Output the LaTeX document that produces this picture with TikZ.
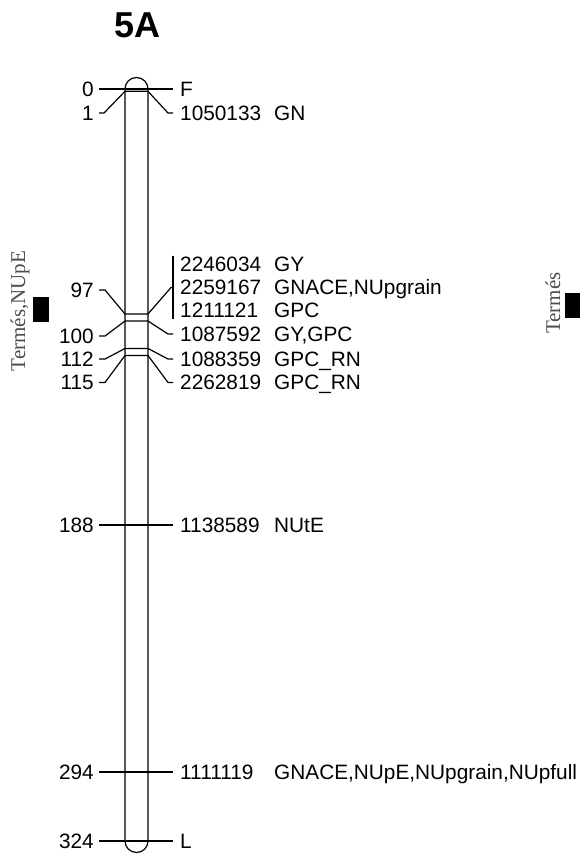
\documentclass[tikz,border=0pt]{standalone}
\usepackage{fontspec}
\setmainfont{Liberation Sans}
\newfontfamily\qtlfont{Liberation Serif}
\begin{document}
\begin{tikzpicture}[x=1pt,y=-1pt]
\tikzstyle{chrom}   = [draw=black, line width=1.2pt, rounded corners=11.5pt, minimum width=23pt, minimum height=775pt, inner sep=0pt]
\tikzstyle{cm_lbl}  = [anchor=east, inner xsep=5pt, inner ysep=1pt, text height=14.6pt, text depth=0pt, font=\fontsize{20.8}{24}\selectfont]
\tikzstyle{mk_lbl}  = [anchor=west, inner xsep=7pt, inner ysep=1pt, text height=14.6pt, text depth=0pt, font=\fontsize{20.8}{24}\selectfont]
\tikzstyle{trait}   = [anchor=west, inner xsep=0pt, inner ysep=1pt, text height=14.6pt, text depth=0pt, font=\fontsize{20.8}{24}\selectfont]
\tikzstyle{link}    = [line width=1.2pt]
\tikzstyle{qtl_bar} = [fill=black, minimum height=25pt, inner sep=0pt]
\tikzstyle{qtl_lbl} = [rotate=90, text=black!70, inner sep=0pt, font=\qtlfont\fontsize{21}{24}\selectfont]

\useasboundingbox (0,0) rectangle (582,856);

\node (title) at (137.5,25) {\fontsize{36}{42}\selectfont\bfseries 5A};
\node (chr) [chrom] at (136.5,465) {};

% map positions (cM)
\node (cm0)   [cm_lbl] at (99,89)    {0};
\node (cm1)   [cm_lbl] at (99,113)   {1};
\node (cm97)  [cm_lbl] at (99,290)   {97};
\node (cm100) [cm_lbl] at (99,336)   {100};
\node (cm112) [cm_lbl] at (99,359)   {112};
\node (cm115) [cm_lbl] at (99,382.5) {115};
\node (cm188) [cm_lbl] at (99,525)   {188};
\node (cm294) [cm_lbl] at (99,772)   {294};
\node (cm324) [cm_lbl] at (99,841)   {324};

% markers
\node (mkF)       [mk_lbl] at (173,89)    {F};
\node (mk1050133) [mk_lbl] at (173,113)   {1050133};
\node (mk2246034) [mk_lbl] at (173,264)   {2246034};
\node (mk2259167) [mk_lbl] at (173,287.5) {2259167};
\node (mk1211121) [mk_lbl] at (173,310.5) {1211121};
\node (mk1087592) [mk_lbl] at (173,334)   {1087592};
\node (mk1088359) [mk_lbl] at (173,359)   {1088359};
\node (mk2262819) [mk_lbl] at (173,382.5) {2262819};
\node (mk1138589) [mk_lbl] at (173,525)   {1138589};
\node (mk1111119) [mk_lbl] at (173,772)   {1111119};
\node (mkL)       [mk_lbl] at (173,841)   {L};

% traits
\node (tr1050133) [trait] at (274,113)   {GN};
\node (tr2246034) [trait] at (274,264)   {GY};
\node (tr2259167) [trait] at (274,287.5) {GNACE,NUpgrain};
\node (tr1211121) [trait] at (274,310.5) {GPC};
\node (tr1087592) [trait] at (274,334)   {GY,GPC};
\node (tr1088359) [trait] at (274,359)   {GPC\_RN};
\node (tr2262819) [trait] at (274,382.5) {GPC\_RN};
\node (tr1138589) [trait] at (274,525)   {NUtE};
\node (tr1111119) [trait] at (274,772)   {GNACE,NUpE,NUpgrain,NUpfull};

% links
\draw [link] (cm0.east)   -- (mkF.west);
\draw [link] (cm1.east)   -- ++(5,0) -- (125,91.3) -- (148,91.3) -- (168,113) -- (mk1050133.west);
\draw [link] (cm97.east)  -- ++(6,0) -- (125,314) -- (148,314) -- (171,287.5) -- (mk2259167.west);
\draw [link] (mk2246034.north west) -- (mk1211121.south west);
\draw [link] (cm100.east) -- ++(6,0) -- (125,321) -- (148,321) -- (168,334) -- (mk1087592.west);
\draw [link] (cm112.east) -- ++(6,0) -- (125,348.5) -- (148,348.5) -- (168,359) -- (mk1088359.west);
\draw [link] (cm115.east) -- ++(6,0) -- (125,355.5) -- (148,355.5) -- (168,382.5) -- (mk2262819.west);
\draw [link] (cm188.east) -- (mk1138589.west);
\draw [link] (cm294.east) -- (mk1111119.west);
\draw [link] (cm324.east) -- (mkL.west);

% QTL
\node (qtlA)    [qtl_bar, minimum width=16pt] at (41,309.5)  {};
\node (qtlAtxt) [qtl_lbl] at (20,311)  {Termés,NUpE};
\node (qtlB)    [qtl_bar, minimum width=15pt] at (572.5,305.5) {};
\node (qtlBtxt) [qtl_lbl] at (553,303) {Termés};
\end{tikzpicture}
\end{document}
